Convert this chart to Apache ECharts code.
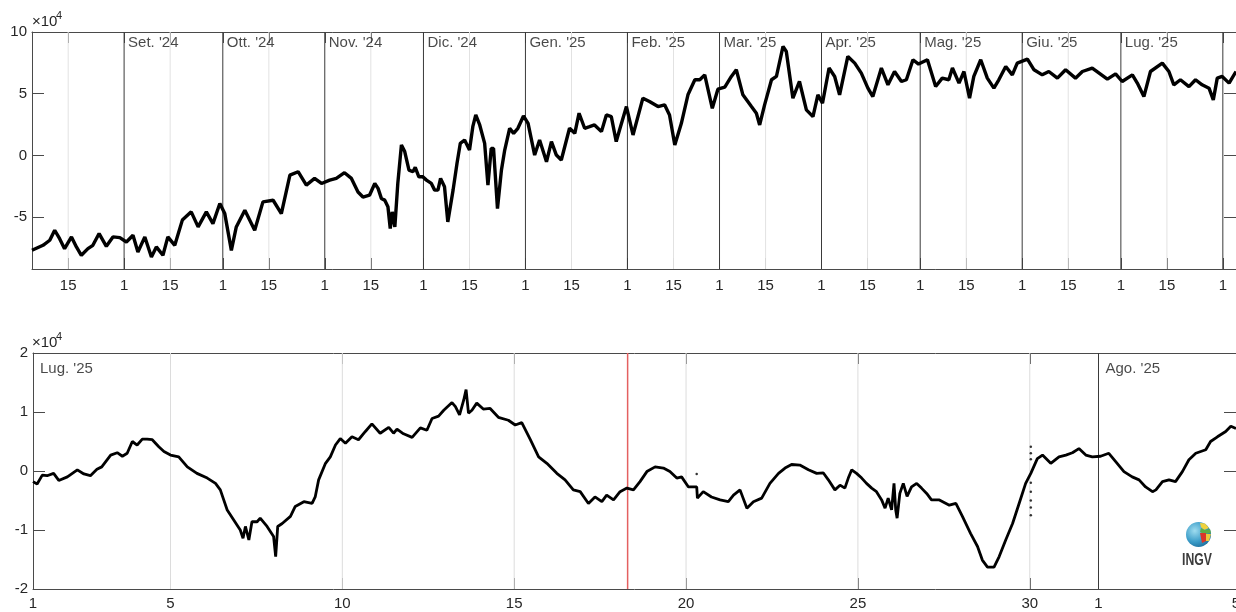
<!DOCTYPE html>
<html><head><meta charset="utf-8">
<script src="https://cdn.jsdelivr.net/npm/echarts@6/dist/echarts.min.js"></script>
<style>html,body{margin:0;padding:0;background:#fff}#c{width:1236px;height:612px}</style>
</head><body><div id="c"></div>
<script>
// ---------- DATA ----------
// Top panel: x = days since 2024-08-04 00:00 UTC, y in units of 1e4
const topStart = [2024, 7, 4];
const topDays = [0,3.35,5.4,6.9,8.4,9.9,12.0,13.5,15.0,17.0,18.5,20.4,22.6,24.6,26.7,28.7,30.7,32.2,34.3,36.3,37.8,39.8,41.3,43.4,45.7,48.4,50.5,53.0,55.0,57.1,58.6,60.6,62.1,64.7,66.2,67.7,70.2,73.3,75.8,78.4,80.9,
83.4,85.9,88.0,90.5,92.5,95.0,97.1,99.1,100.6,102.6,104.2,105.2,106.2,107.2,108.2,108.9,109.5,110.3,111.2,112.3,113.3,114.6,115.8,116.5,117.6,118.8,119.9,121.4,122.4,123.4,124.2,125.4,126.4,128.0,129.2,130.2,131.5,133.0,134.0,134.9,136.1,137.6,138.6,139.6,140.3,141.5,142.7,143.7,145.2,146.4,147.7,149.4,150.8,152.8,154.3,156.4,157.9,159.4,160.9,163.4,165.0,166.3,168.0,169.5,171.0,173.1,174.6,176.1,177.6,178.6,
180.7,182.7,185.7,187.7,190.3,192.3,193.8,195.4,197.4,199.4,201.5,203.0,204.5,206.8,208.5,210.6,212.6,214.1,216.1,218.7,220.2,221.2,222.7,224.8,226.3,228.3,229.3,231.3,233.3,235.4,237.4,238.9,240.3,242.3,244.0,245.5,248.0,250.1,252.1,254.1,255.6,258.2,260.2,262.2,264.3,265.8,267.8,
269.5,272.2,274.7,276.7,278.7,279.8,281.8,283.3,285.0,286.3,288.4,290.4,292.4,293.9,296.0,298.0,299.5,302.6,304.6,307.1,309.1,311.7,314.2,317.2,319.3,322.3,326.9,329.4,331.4,334.5,336.0,338.0,340.0,343.6,345.6,347.1,349.1,351.7,353.7,355.7,357.8,359.1,360.3,361.8,363.9,366];
const topVals = [-7.68,-7.28,-6.87,-6.06,-6.74,-7.55,-6.6,-7.41,-8.09,-7.55,-7.28,-6.33,-7.36,-6.6,-6.66,-7.01,-6.47,-7.82,-6.6,-8.23,-7.41,-8.09,-6.6,-7.28,-5.24,-4.57,-5.79,-4.57,-5.52,-3.89,-4.71,-7.69,-5.79,-4.44,-5.25,-6.06,-3.76,-3.63,-4.71,-1.6,-1.32,
-2.4,-1.86,-2.27,-2.0,-1.86,-1.4,-1.86,-2.96,-3.37,-3.22,-2.27,-2.67,-3.48,-3.62,-4.16,-5.92,-4.57,-5.79,-2.27,0.85,0.31,-1.19,-1.32,-0.97,-1.73,-1.73,-2.0,-2.27,-2.81,-2.81,-1.86,-2.54,-5.38,-2.81,-0.64,0.98,1.25,0.44,2.33,3.28,2.47,0.98,-2.41,0.57,0.57,-4.3,-1.19,0.44,2.2,1.79,2.2,3.2,2.6,0.03,1.25,-0.51,1.12,0.03,-0.37,2.2,1.79,3.42,2.2,2.33,2.47,1.93,3.28,3.14,1.12,2.06,
3.96,1.66,4.64,4.37,3.96,4.1,3.28,0.84,2.6,4.91,6.13,6.13,6.53,3.82,5.37,5.53,6.4,6.94,4.91,3.96,3.42,2.47,4.1,6.13,6.4,8.83,8.42,4.64,5.99,3.69,3.14,4.91,4.23,7.08,6.4,4.91,8.02,7.48,6.67,5.45,4.77,7.08,5.72,6.8,5.99,6.13,7.75,
7.4,7.75,5.58,6.26,6.13,7.08,5.86,6.8,4.64,6.4,7.75,6.26,5.45,6.13,7.21,6.53,7.48,7.8,6.94,6.53,6.8,6.26,6.94,6.26,6.8,7.08,6.18,6.61,5.99,6.53,5.86,4.77,6.8,7.48,6.8,5.72,6.13,5.58,6.13,5.72,5.45,4.5,6.26,6.4,5.86,6.8];

// Bottom panel: x = days since 2025-07-01 00:00 UTC, y in units of 1e4
const botStart = [2025, 6, 1];
const botDays = [0,0.12,0.27,0.41,0.6,0.75,1.0,1.29,1.48,1.67,1.86,2.0,2.26,2.45,2.6,2.74,2.89,3.03,3.18,3.32,3.47,3.66,3.81,4.0,4.24,4.49,4.77,5.07,5.31,5.45,5.65,5.84,6.03,6.11,6.18,6.28,6.37,6.52,6.61,6.81,7.0,7.06,7.12,7.25,7.49,7.63,7.88,8.12,8.21,
8.31,8.51,8.65,8.80,8.94,9.09,9.28,9.47,9.67,9.86,10.1,10.35,10.49,10.59,10.78,11.03,11.27,11.46,11.61,11.8,11.95,12.19,12.29,12.41,12.53,12.6,12.67,12.77,12.91,13.1,13.3,13.54,13.83,14.03,14.22,14.47,14.71,14.95,15.24,15.48,15.72,15.92,16.16,16.35,16.55,16.69,16.89,
17.08,17.28,17.47,17.66,17.86,18.1,18.34,18.53,18.73,18.87,19.07,19.31,19.33,19.5,19.74,19.99,20.23,20.38,20.57,20.77,20.96,21.2,21.44,21.69,21.88,22.07,22.31,22.56,22.8,22.99,23.14,23.33,23.48,23.62,23.72,23.82,23.96,24.11,24.25,24.4,24.54,24.69,24.79,24.88,24.98,25.05,25.1,25.14,25.22,25.32,25.43,25.56,25.71,25.85,26.0,26.14,
26.37,26.66,26.85,27.04,27.28,27.48,27.62,27.77,27.96,28.11,28.3,28.5,28.69,28.88,29.03,29.22,29.37,29.61,29.85,30.05,30.24,30.43,30.63,30.82,31.06,31.3,31.5,31.74,31.98,32.18,32.37,32.57,32.67,32.86,33.05,33.24,33.44,33.63,33.83,34.12,34.26,34.46,34.7,34.85,35.0];
const botVals = [-0.18,-0.22,-0.07,-0.08,-0.04,-0.16,-0.10,0.02,-0.05,-0.08,0.03,0.07,0.27,0.31,0.25,0.30,0.50,0.44,0.54,0.54,0.53,0.41,0.33,0.27,0.24,0.07,-0.04,-0.12,-0.21,-0.32,-0.66,-0.83,-1.0,-1.14,-0.94,-1.17,-0.86,-0.86,-0.80,-0.94,-1.11,-1.45,-0.94,-0.89,-0.77,-0.60,-0.52,-0.55,-0.44,
-0.15,0.13,0.24,0.44,0.55,0.47,0.58,0.53,0.67,0.80,0.64,0.74,0.64,0.71,0.63,0.57,0.73,0.69,0.89,0.93,1.03,1.16,1.09,0.95,1.20,1.38,0.98,1.03,1.15,1.05,1.06,0.91,0.86,0.78,0.82,0.53,0.24,0.13,-0.04,-0.15,-0.32,-0.35,-0.55,-0.44,-0.52,-0.41,-0.49,
-0.35,-0.29,-0.32,-0.18,-0.01,0.07,0.05,-0.01,-0.12,-0.10,-0.27,-0.27,-0.46,-0.35,-0.44,-0.49,-0.52,-0.41,-0.32,-0.63,-0.52,-0.46,-0.21,-0.04,0.05,0.11,0.10,0.02,-0.04,-0.03,-0.15,-0.32,-0.24,-0.29,-0.12,0.02,-0.04,-0.12,-0.21,-0.29,-0.35,-0.49,-0.63,-0.46,-0.66,-0.21,-0.66,-0.80,-0.38,-0.21,-0.43,-0.27,-0.21,-0.29,-0.38,-0.49,
-0.49,-0.58,-0.55,-0.77,-1.06,-1.28,-1.51,-1.63,-1.63,-1.45,-1.17,-0.89,-0.55,-0.21,-0.04,0.21,0.27,0.13,0.24,0.27,0.31,0.38,0.27,0.24,0.25,0.30,0.16,-0.01,-0.10,-0.15,-0.27,-0.35,-0.32,-0.18,-0.15,-0.18,-0.01,0.19,0.30,0.36,0.50,0.58,0.67,0.76,0.72];
// isolated samples (dots)
const botOutDays = [19.31,29.03,29.03,29.03,29.03,29.03,29.03,29.03,29.03];
const botOutVals = [-0.05,0.41,0.30,0.20,-0.20,-0.35,-0.50,-0.62,-0.75];
const eventDay = 17.3; // red marker line
const monthNames = ['Gen.','Feb.','Mar.','Apr.','Mag.','Giu.','Lug.','Ago.','Set.','Ott.','Nov.','Dic.'];
const topYTicks = [-5, 0, 5, 10];
const topYRange = [-9.2, 10];
const botYRange = [-2, 2];
const botTickDates = [[2025,6,1],[2025,6,5],[2025,6,10],[2025,6,15],[2025,6,20],[2025,6,25],[2025,6,30],[2025,7,1],[2025,7,5]];

// ---------- HELPERS ----------
const DAY = 86400000;
const off = (s, y, m, d) => (Date.UTC(y, m, d) - Date.UTC(s[0], s[1], s[2])) / DAY;
const dom = (s, v) => new Date(Date.UTC(s[0], s[1], s[2]) + Math.round(v * DAY)).getUTCDate();
const TOP_MAX = off(topStart, 2025, 7, 5);
const BOT_MAX = off(botStart, 2025, 7, 5);

const topTicks = [], topFirsts = [], topFifteens = [], topMonthLabels = [];
for (let k = 0; k < 14; k++) {
  const y = 2024 + Math.floor((7 + k) / 12), m = (7 + k) % 12;
  const o1 = off(topStart, y, m, 1), o15 = off(topStart, y, m, 15);
  if (o1 >= 0 && o1 <= TOP_MAX) {
    topTicks.push(o1); topFirsts.push(o1);
    if (o1 < TOP_MAX - 10) topMonthLabels.push({d: o1, t: monthNames[m] + " '" + String(y).slice(2)});
  }
  if (o15 >= 0 && o15 <= TOP_MAX) { topTicks.push(o15); topFifteens.push(o15); }
}
topTicks.sort((a, b) => a - b);
const botTicks = botTickDates.map(t => off(botStart, t[0], t[1], t[2]));
const botFirsts = botTickDates.filter(t => t[2] === 1 && off(botStart, t[0], t[1], t[2]) > 0).map(t => off(botStart, t[0], t[1], t[2]));
const botLight = botTickDates.filter(t => t[2] !== 1 && off(botStart, t[0], t[1], t[2]) < BOT_MAX).map(t => off(botStart, t[0], t[1], t[2]));
const botMonthLabels = botTickDates.filter(t => t[2] === 1).map(t => ({d: off(botStart, t[0], t[1], t[2]), t: monthNames[t[1]] + " '" + String(t[0]).slice(2)}));

// ---------- STYLE ----------
const AX = '#4a4a4a', TXT = '#262626', FONT = 'Liberation Sans';
const G1 = {left: 32, top: 32, right: 0, height: 237, outerBoundsMode: 'none', containLabel: false};
const G2 = {left: 33, top: 353, right: 0, height: 236, outerBoundsMode: 'none', containLabel: false};

function xAx(grid, min, max, ticks, start, pos, labels, margin) {
  return {type: 'value', gridIndex: grid, position: pos, min, max,
    axisLine: {show: true, onZero: false, lineStyle: {color: AX, width: 1}},
    axisTick: {show: true, inside: true, length: 11, customValues: ticks, lineStyle: {color: AX}},
    axisLabel: {show: labels, customValues: ticks, margin, color: TXT, fontSize: 15, fontFamily: FONT,
      hideOverlap: false, formatter: v => String(dom(start, v))},
    splitLine: {show: false}};
}
function yAx(grid, range, ticks, pos, labels) {
  return {type: 'value', gridIndex: grid, position: pos, min: range[0], max: range[1],
    axisLine: {show: true, onZero: false, lineStyle: {color: AX, width: 1}},
    axisTick: {show: true, inside: true, length: 12, customValues: ticks, lineStyle: {color: AX}},
    axisLabel: {show: labels, customValues: ticks, margin: 5, color: TXT, fontSize: 15, fontFamily: FONT},
    splitLine: {show: false}};
}
// vertical reference lines drawn as 2-point line series through the axes
function vlineSeries(xi, yi, arr, range, color, z, w) {
  return arr.map(d => ({type: 'line', xAxisIndex: xi, yAxisIndex: yi, z, silent: true, showSymbol: false,
    color: color, lineStyle: {color: color, width: w || 1, opacity: 1}, itemStyle: {color: color},
    emphasis: {disabled: true}, data: [[d, range[0]], [d, range[1]]]}));
}
function monthLabelSeries(xi, yi, labels, ytop, pos) {
  return {type: 'scatter', xAxisIndex: xi, yAxisIndex: yi, symbolSize: 0, silent: true, z: 5,
    data: labels.map(l => ({value: [l.d, ytop], label: {formatter: l.t}})),
    label: {show: true, position: pos, color: '#1a1a1a', fontSize: 15, fontFamily: FONT}};
}

const botYTicks = [-2, -1, 0, 1, 2];
const option = {
  animation: false,
  backgroundColor: '#fff',
  grid: [G1, G2],
  xAxis: [
    xAx(0, 0, TOP_MAX, topTicks, topStart, 'bottom', true, 9),
    xAx(0, 0, TOP_MAX, topTicks, topStart, 'top', false, 8),
    xAx(1, 0, BOT_MAX, botTicks, botStart, 'bottom', true, 7),
    xAx(1, 0, BOT_MAX, botTicks, botStart, 'top', false, 8)
  ],
  yAxis: [
    yAx(0, topYRange, topYTicks, 'left', true),
    yAx(0, topYRange, topYTicks, 'right', false),
    yAx(1, botYRange, botYTicks, 'left', true),
    yAx(1, botYRange, botYTicks, 'right', false)
  ],
  series: [
    ...vlineSeries(0, 0, topFifteens, topYRange, '#e2e2e2', 1),
    ...vlineSeries(0, 0, topFirsts, topYRange, '#3a3a3a', 1),
    ...vlineSeries(2, 2, botLight, botYRange, '#dcdcdc', 1),
    ...vlineSeries(2, 2, botFirsts, botYRange, '#3a3a3a', 1),
    ...vlineSeries(2, 2, [eventDay], botYRange, '#e46060', 2, 1.5),
    {type: 'line', xAxisIndex: 0, yAxisIndex: 0, z: 3, showSymbol: false, silent: true, clip: true,
      lineStyle: {color: '#000', width: 3.4}, data: topDays.map((d, i) => [d, topVals[i]])},
    {type: 'line', xAxisIndex: 2, yAxisIndex: 2, z: 3, showSymbol: false, silent: true, clip: true,
      lineStyle: {color: '#000', width: 2.8}, data: botDays.map((d, i) => [d, botVals[i]])},
    {type: 'scatter', xAxisIndex: 2, yAxisIndex: 2, z: 3, symbolSize: 2.5, silent: true,
      itemStyle: {color: '#000'}, data: botOutDays.map((d, i) => [d, botOutVals[i]])},
    monthLabelSeries(0, 0, topMonthLabels, topYRange[1], [4, 3]),
    monthLabelSeries(2, 2, botMonthLabels, botYRange[1], [7, 8])
  ],
  graphic: [
    {type: 'text', left: 32, top: 14, style: {text: '×10', fontSize: 15, fontFamily: FONT, fill: TXT}},
    {type: 'text', left: 56, top: 10, style: {text: '4', fontSize: 11, fontFamily: FONT, fill: TXT}},
    {type: 'text', left: 32, top: 335, style: {text: '×10', fontSize: 15, fontFamily: FONT, fill: TXT}},
    {type: 'text', left: 56, top: 331, style: {text: '4', fontSize: 11, fontFamily: FONT, fill: TXT}},
    {type: 'circle', shape: {cx: 1198.5, cy: 534.5, r: 12.5}, style: {fill: {type: 'radial', x: 0.35, y: 0.35, r: 0.75,
      colorStops: [{offset: 0, color: '#9fdcef'}, {offset: 0.6, color: '#3a9cc8'}, {offset: 1, color: '#1a6a98'}]}}},
    {type: 'polygon', shape: {points: [[1200, 523], [1205, 523.5], [1209, 528], [1204, 530], [1201, 527]]}, style: {fill: '#f0d13c'}},
    {type: 'polygon', shape: {points: [[1201, 528], [1205, 530], [1210, 529], [1211, 533], [1204, 534], [1200, 532]]}, style: {fill: '#5aae48'}},
    {type: 'polygon', shape: {points: [[1200, 533], [1206, 533], [1206, 541], [1202, 543]]}, style: {fill: '#d8352a'}},
    {type: 'polygon', shape: {points: [[1206, 534], [1211, 534], [1209, 541], [1206, 541]]}, style: {fill: '#e8c93a'}},
    {type: 'text', left: 1182, top: 552, scaleX: 0.72, style: {text: 'INGV', fontSize: 17, fontWeight: 'bold', fontFamily: FONT, fill: '#3c3c3c'}}
  ]
};
const chart = echarts.init(document.getElementById('c'), null, {renderer: 'canvas'});
chart.setOption(option);
</script></body></html>
